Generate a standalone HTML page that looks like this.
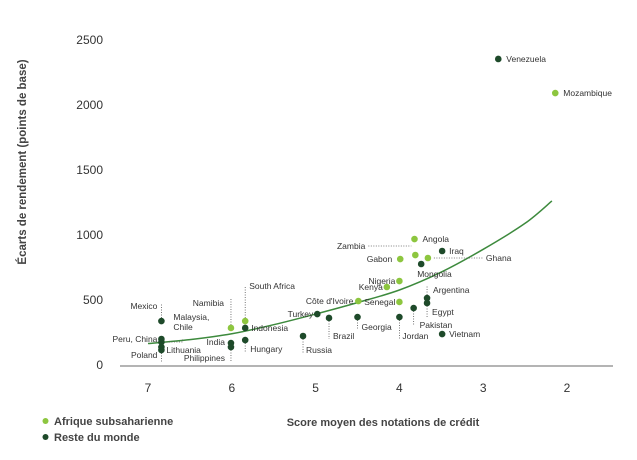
<!DOCTYPE html>
<html><head><meta charset="utf-8"><style>
body{margin:0;background:#fff;}
svg{display:block;font-family:"Liberation Sans",sans-serif;}
</style></head><body>
<svg id="chart" width="637" height="460">
<text transform="translate(26,162) rotate(-90)" text-anchor="middle" font-size="11.5" font-weight="bold" fill="#444">Écarts de rendement (points de base)</text>
<text x="383" y="426" text-anchor="middle" font-size="11" font-weight="bold" fill="#444">Score moyen des notations de crédit</text>
<circle cx="45.5" cy="421" r="3" fill="#8dc63f"/>
<text x="54" y="425" font-size="11" font-weight="bold" fill="#444">Afrique subsaharienne</text>
<circle cx="45.5" cy="437" r="3" fill="#1e4a2a"/>
<text x="54" y="441" font-size="11" font-weight="bold" fill="#444">Reste du monde</text>
<line x1="120" y1="366" x2="613" y2="366" stroke="#888" stroke-width="1.2"/>
<g id="g"></g>
</svg>
<script>
const xTicks=[7,6,5,4,3,2];
const yTicks=[0,500,1000,1500,2000,2500];
const names=["Venezuela","Mozambique","Angola","Zambia","Gabon","Ghana","Iraq","Mongolia","Nigeria","Kenya","Senegal","Côte d'Ivoire","Argentina","Egypt","Pakistan","Jordan","Vietnam","Georgia","Brazil","Turkey","Russia","Hungary","Indonesia","South Africa","Namibia","India","Philippines","Mexico","Peru, China","Malaysia, Chile","Lithuania","Poland"];
const scores=[2.82,2.14,3.82,3.81,3.99,3.66,3.49,3.74,4.0,4.15,4.0,4.49,3.67,3.67,3.83,4.0,3.49,4.5,4.84,4.98,5.15,5.84,5.84,5.84,6.01,6.01,6.01,6.84,6.84,6.84,6.84,6.84];
const spreads=[2354,2092,969,846,815,823,877,777,646,600,485,492,515,477,438,369,238,369,362,392,223,192,285,338,285,169,138,338,200,177,138,115];
const region=["r","a","a","a","a","a","r","r","a","a","a","a","r","r","r","r","r","r","r","r","r","r","r","a","a","r","r","r","r","r","r","r"];
const trendX=[7,6.5,6,5.5,5,4.5,4,3.5,3,2.5,2.18];
const trendY=[165,195,240,310,392,480,577,715,890,1090,1262];
const X=v=>148+(7-v)*83.8;
const Y=v=>365-v*0.13;
const lab={"Venezuela":[8,3,"start"],"Mozambique":[8,3,"start"],"Angola":[8,3,"start"],"Zambia":[-50,-6,"end",[-47,-9,-4,-9]],"Gabon":[-8,3,"end"],"Ghana":[58,3,"start",[6,0,55,0]],"Iraq":[7,3,"start"],"Mongolia":[-4,13,"start"],"Nigeria":[-4,3,"end"],"Kenya":[-4,3,"end"],"Senegal":[-4,3,"end"],"Côte d'Ivoire":[-5,3,"end"],"Argentina":[6,-5,"start",[0,-3,0,-12]],"Egypt":[5,12,"start",[0,3,0,15]],"Pakistan":[6,20,"start",[0,3,0,18]],"Jordan":[3,22,"start",[0,3,0,22]],"Vietnam":[7,3,"start"],"Georgia":[4,13,"start",[0,3,0,12]],"Brazil":[4,21,"start",[0,3,0,21]],"Turkey":[-4,3,"end"],"Russia":[3,17,"start",[0,3,0,17]],"Hungary":[5,12,"start",[0,3,0,12]],"Indonesia":[6,3,"start"],"South Africa":[4,-32,"start",[0,-3,0,-34]],"Namibia":[-7,-22,"end",[0,-3,0,-30]],"India":[-6,2,"end"],"Philippines":[-6,14,"end",[0,3,0,14]],"Mexico":[-4,-12,"end",[0,-3,0,-18]],"Peru, China":[-4,3,"end"],"Malaysia, Chile":[12,-22,"start",[5,0,21,0,21,-4]],"Lithuania":[5,6,"start"],"Poland":[-4,8,"end",[0,3,0,12]]};
const ns="http://www.w3.org/2000/svg",g=document.getElementById("g");
function mk(t,a){const e=document.createElementNS(ns,t);for(const k in a)e.setAttribute(k,a[k]);g.appendChild(e);return e;}
yTicks.forEach(v=>{const t=mk("text",{x:103,y:Y(v)+4,"text-anchor":"end","font-size":"12",fill:"#333"});t.textContent=v;

});
xTicks.forEach(v=>{const t=mk("text",{x:X(v),y:392,"text-anchor":"middle","font-size":"12",fill:"#333"});t.textContent=v;

});
let pts=trendX.map((x,i)=>[X(x),Y(trendY[i])]);
let d="M"+pts[0][0]+","+pts[0][1];
for(let i=0;i<pts.length-1;i++){const p0=pts[Math.max(0,i-1)],p1=pts[i],p2=pts[i+1],p3=pts[Math.min(pts.length-1,i+2)];
d+=" C"+(p1[0]+(p2[0]-p0[0])/6)+","+(p1[1]+(p2[1]-p0[1])/6)+" "+(p2[0]-(p3[0]-p1[0])/6)+","+(p2[1]-(p3[1]-p1[1])/6)+" "+p2[0]+","+p2[1];}
const tr=mk("path",{d:d,fill:"none",stroke:"#3d8a3d","stroke-width":"1.5"});


names.forEach((n,i)=>{const cx=X(scores[i]),cy=Y(spreads[i]);const L=lab[n];
if(L[3]){const q=L[3];let pd="M"+(cx+q[0])+","+(cy+q[1]);for(let j=2;j<q.length;j+=2)pd+=" L"+(cx+q[j])+","+(cy+q[j+1]);
const ln=mk("path",{d:pd,fill:"none",stroke:"#555","stroke-width":"0.8","stroke-dasharray":"1,1.5"});

}
const c=mk("circle",{cx:cx,cy:cy,r:3.3,fill:region[i]=="a"?"#8dc63f":"#1e4a2a"});


const t=mk("text",{x:cx+L[0],y:cy+L[1],"text-anchor":L[2],"font-size":"8.5",fill:"#333"});
if(n==="Malaysia, Chile"){const a=document.createElementNS(ns,"tspan");a.textContent="Malaysia,";t.appendChild(a);
const b=document.createElementNS(ns,"tspan");b.setAttribute("x",cx+L[0]);b.setAttribute("dy","10");b.textContent="Chile";t.appendChild(b);}
else t.textContent=n;


});
</script>
</body></html>
